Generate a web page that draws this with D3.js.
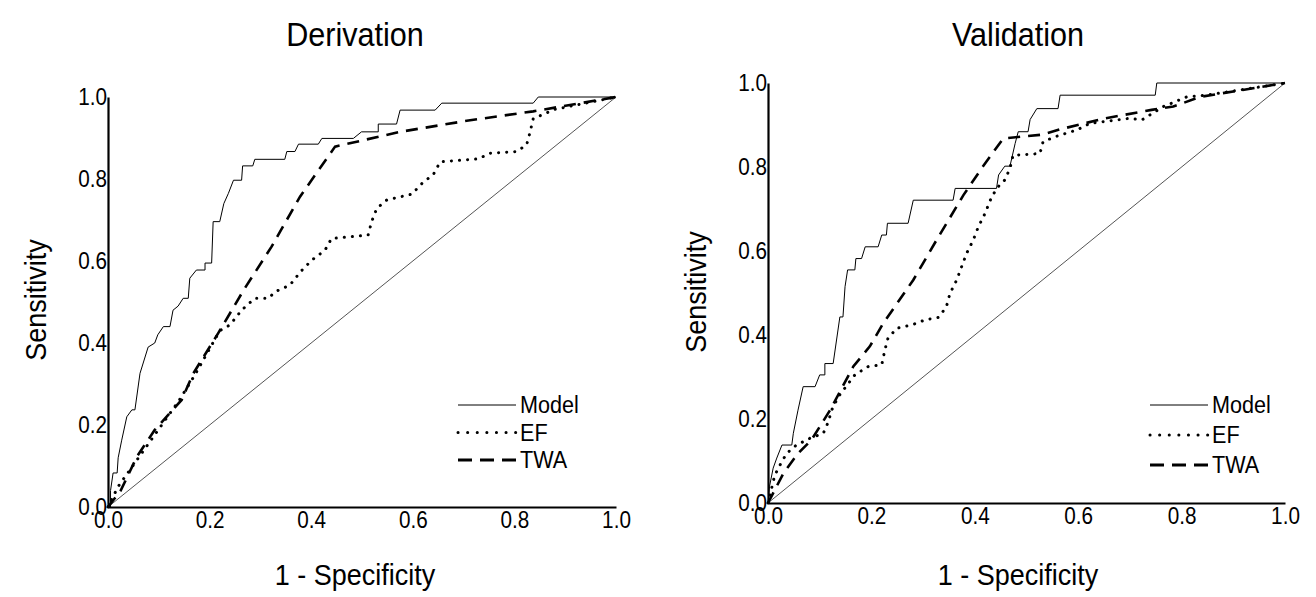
<!DOCTYPE html>
<html>
<head>
<meta charset="utf-8">
<script src="https://cdn.jsdelivr.net/npm/d3@7"></script>
<style>
    body { margin: 0; background: #fff; }
    text { font-family: "Liberation Sans", Arial, sans-serif; fill: #000; }
</style>
</head>
<body>
<div id="chart"></div>
<script>
// ROC points as [1 - specificity, sensitivity]
const derivationModel = [[0,0],[0.005,0],[0.005,0.04],[0.01,0.083],[0.018,0.083],[0.02,0.12],[0.027,0.163],[0.037,0.22],[0.047,0.237],[0.053,0.237],[0.063,0.326],[0.079,0.39],[0.092,0.40],[0.098,0.42],[0.109,0.44],[0.122,0.44],[0.128,0.48],[0.138,0.49],[0.148,0.509],[0.158,0.509],[0.161,0.558],[0.174,0.578],[0.191,0.578],[0.191,0.595],[0.204,0.595],[0.207,0.696],[0.220,0.696],[0.228,0.74],[0.237,0.765],[0.247,0.797],[0.263,0.797],[0.265,0.832],[0.285,0.832],[0.289,0.848],[0.348,0.848],[0.352,0.867],[0.368,0.867],[0.375,0.885],[0.414,0.885],[0.421,0.899],[0.483,0.899],[0.499,0.915],[0.532,0.915],[0.532,0.934],[0.568,0.934],[0.575,0.968],[0.644,0.968],[0.657,0.985],[0.837,0.985],[0.847,1],[1,1]];
const derivationEF = [[0,0],[0.02,0.05],[0.06,0.12],[0.10,0.19],[0.14,0.26],[0.17,0.32],[0.22,0.43],[0.240,0.444],[0.263,0.48],[0.289,0.509],[0.316,0.509],[0.329,0.525],[0.358,0.541],[0.379,0.574],[0.401,0.602],[0.427,0.626],[0.440,0.655],[0.512,0.663],[0.519,0.696],[0.529,0.728],[0.549,0.749],[0.598,0.763],[0.621,0.793],[0.640,0.810],[0.654,0.842],[0.729,0.849],[0.752,0.863],[0.804,0.867],[0.824,0.883],[0.831,0.915],[0.837,0.947],[0.88,0.97],[1,1]];
const derivationTWA = [[0,0],[0.025,0.04],[0.057,0.123],[0.092,0.188],[0.145,0.261],[0.168,0.326],[0.217,0.424],[0.267,0.529],[0.322,0.635],[0.378,0.757],[0.447,0.879],[0.575,0.915],[0.706,0.942],[0.837,0.965],[1,1]];

const validationModel = [[0,0],[0.003,0.04],[0.010,0.083],[0.017,0.107],[0.027,0.138],[0.046,0.138],[0.049,0.166],[0.058,0.221],[0.068,0.277],[0.091,0.277],[0.1,0.305],[0.11,0.305],[0.11,0.332],[0.126,0.332],[0.139,0.443],[0.145,0.443],[0.149,0.515],[0.154,0.555],[0.168,0.555],[0.170,0.582],[0.181,0.582],[0.188,0.61],[0.213,0.61],[0.22,0.638],[0.229,0.638],[0.231,0.666],[0.271,0.666],[0.281,0.721],[0.358,0.721],[0.362,0.749],[0.442,0.749],[0.446,0.781],[0.458,0.802],[0.468,0.802],[0.478,0.856],[0.484,0.884],[0.503,0.884],[0.507,0.913],[0.520,0.939],[0.561,0.939],[0.565,0.971],[0.749,0.971],[0.752,1],[1,1]];
const validationEF = [[0,0],[0.007,0.035],[0.013,0.066],[0.023,0.09],[0.036,0.118],[0.055,0.138],[0.081,0.154],[0.107,0.166],[0.117,0.194],[0.123,0.221],[0.136,0.253],[0.168,0.305],[0.194,0.325],[0.22,0.329],[0.226,0.364],[0.232,0.392],[0.249,0.416],[0.278,0.424],[0.304,0.436],[0.33,0.442],[0.345,0.467],[0.352,0.499],[0.365,0.531],[0.384,0.594],[0.397,0.626],[0.407,0.658],[0.42,0.69],[0.43,0.721],[0.442,0.749],[0.458,0.769],[0.468,0.797],[0.474,0.828],[0.526,0.832],[0.532,0.86],[0.555,0.872],[0.597,0.888],[0.623,0.904],[0.7,0.916],[0.723,0.912],[0.765,0.944],[0.81,0.967],[0.848,0.971],[1,1]];
const validationTWA = [[0,0],[0.03,0.071],[0.058,0.118],[0.084,0.15],[0.12,0.221],[0.165,0.325],[0.197,0.373],[0.223,0.428],[0.281,0.531],[0.326,0.626],[0.378,0.733],[0.415,0.8],[0.455,0.868],[0.53,0.877],[0.566,0.89],[0.649,0.915],[0.742,0.936],[0.784,0.944],[0.836,0.967],[1,1]];

const tickValues = [0, 0.2, 0.4, 0.6, 0.8, 1.0];
const seriesNames = ['Model', 'EF', 'TWA'];
const chanceLine = [[0, 0], [1, 1]];

const styles = {
    Model: { width: 1, dash: null, cap: 'butt' },
    EF: { width: 3, dash: '0.1 8', cap: 'round' },
    TWA: { width: 2.6, dash: '12 8', cap: 'butt' }
};

const svg = d3.select('#chart').append('svg')
    .attr('width', 1316)
    .attr('height', 597);

// the original type is a bit narrow and tall, so squeeze it sideways
const squeeze = 'scale(0.9,1)';

function label(g, x, y, size, txt, rotate) {
    g.append('g')
        .attr('transform', `translate(${x},${y})` + (rotate ? ' rotate(-90)' : ''))
        .append('text')
        .attr('transform', squeeze)
        .attr('text-anchor', 'middle')
        .style('font-size', size + 'px')
        .text(txt);
}

function drawPanel(opts) {
    const x = d3.scaleLinear().domain([0, 1]).range([opts.left, opts.right]);
    const y = d3.scaleLinear().domain([0, 1]).range([opts.bottom, opts.top]);
    const g = svg.append('g');

    const line = d3.line().x(d => x(d[0])).y(d => y(d[1]));

    // chance diagonal
    g.append('path')
        .attr('d', line(chanceLine))
        .attr('fill', 'none')
        .attr('stroke', '#555')
        .attr('stroke-width', 1);

    [['TWA', opts.twa], ['EF', opts.ef], ['Model', opts.model]].forEach(([name, data]) => {
        const s = styles[name];
        g.append('path')
            .attr('d', line(data))
            .attr('fill', 'none')
            .attr('stroke', '#000')
            .attr('stroke-width', s.width)
            .attr('stroke-linecap', s.cap)
            .attr('stroke-dasharray', s.dash);
    });

    const fmt = d3.format('.1f');
    const xAxis = g.append('g')
        .attr('transform', `translate(0,${opts.bottom})`)
        .call(d3.axisBottom(x).tickValues(tickValues).tickFormat(fmt).tickSize(0).tickPadding(5));
    const yAxis = g.append('g')
        .attr('transform', `translate(${opts.left},0)`)
        .call(d3.axisLeft(y).tickValues(tickValues).tickFormat(fmt).tickSize(0).tickPadding(1));

    [xAxis, yAxis].forEach(a => {
        a.select('.domain').attr('stroke', '#000').attr('stroke-width', 2.2);
        a.selectAll('text')
            .attr('transform', squeeze)
            .style('font-size', '23px')
            .style('font-family', '"Liberation Sans", Arial, sans-serif');
    });
    // the squeeze moves the y labels toward the axis a little; push them back
    yAxis.selectAll('text').attr('x', -1 / 0.9);

    label(g, opts.titleX, 46, 34, opts.title);
    label(g, opts.titleX, 585, 30, '1 - Specificity');
    label(g, opts.yLabelX, opts.yLabelY, 30, 'Sensitivity', true);

    // legend
    const legend = g.append('g')
        .attr('transform', `translate(${opts.legendX},${opts.legendY})`);
    seriesNames.forEach((name, i) => {
        const s = styles[name];
        const row = legend.append('g').attr('transform', `translate(0,${i * opts.legendStep})`);
        row.append('line')
            .attr('x1', 0).attr('x2', 58)
            .attr('stroke', '#000')
            .attr('stroke-width', name === 'TWA' ? 3.2 : s.width)
            .attr('stroke-linecap', s.cap)
            .attr('stroke-dasharray', name === 'EF' ? '0.1 9.5' : (name === 'TWA' ? '14 8' : null));
        row.append('text')
            .attr('transform', `translate(62,0) ${squeeze}`)
            .attr('dy', '0.35em')
            .style('font-size', '24px')
            .text(name);
    });
}

drawPanel({
    title: 'Derivation', titleX: 355,
    left: 108, right: 616, top: 97, bottom: 507,
    yLabelX: 46, yLabelY: 300,
    legendX: 458, legendY: 405, legendStep: 27.5,
    model: derivationModel, ef: derivationEF, twa: derivationTWA
});

drawPanel({
    title: 'Validation', titleX: 1018,
    left: 768, right: 1285, top: 83, bottom: 503,
    yLabelX: 706, yLabelY: 292,
    legendX: 1150, legendY: 405, legendStep: 30,
    model: validationModel, ef: validationEF, twa: validationTWA
});
</script>
</body>
</html>
